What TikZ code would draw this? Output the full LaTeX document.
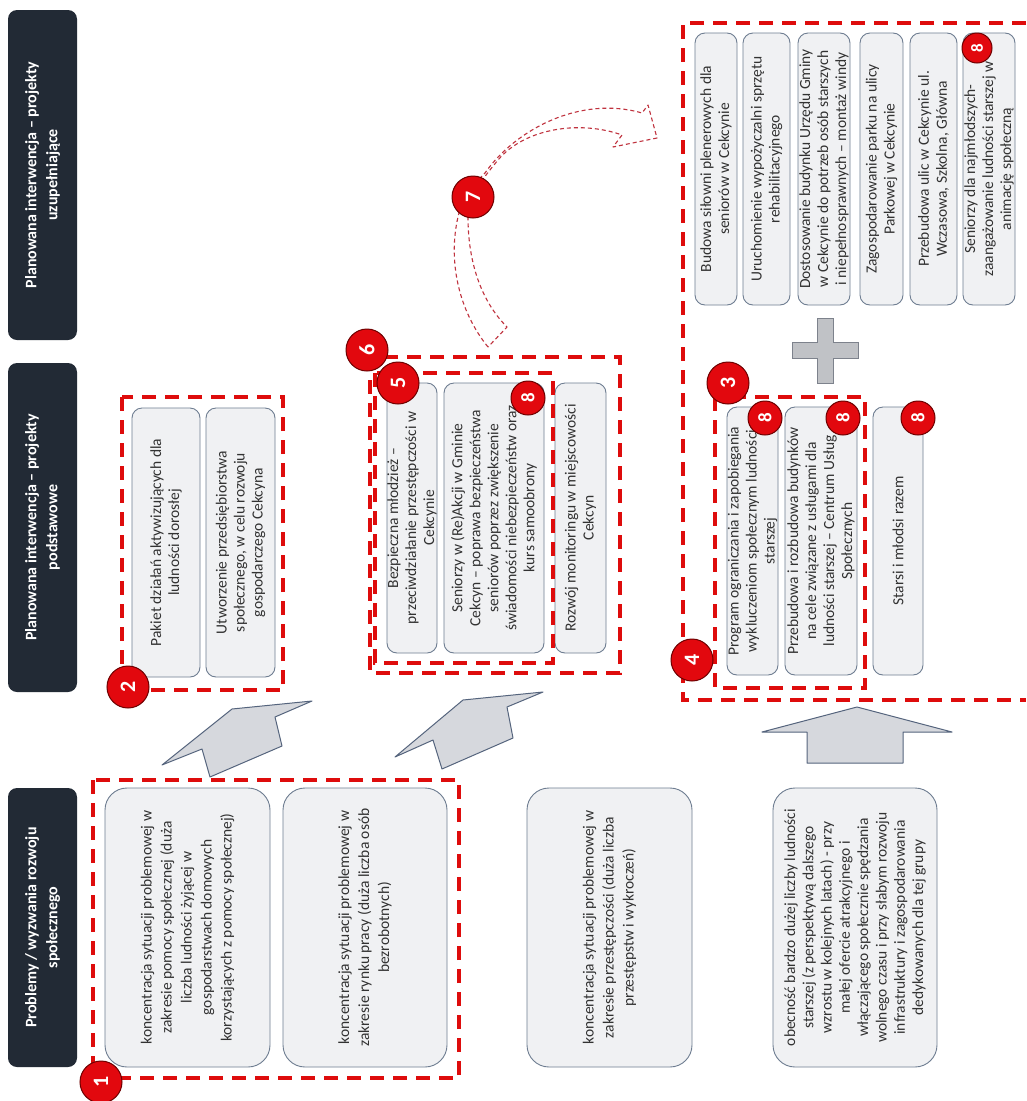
\documentclass[tikz,border=0pt]{standalone}
\usepackage{fontspec}
\setmainfont{Carlito}
\definecolor{hdr}{RGB}{34,42,53}
\definecolor{boxfill}{RGB}{240,241,243}
\definecolor{boxline}{RGB}{110,125,145}
\definecolor{txt}{RGB}{50,50,50}
\definecolor{redd}{RGB}{222,12,12}
\definecolor{badgefill}{RGB}{226,8,14}
\definecolor{badgeline}{RGB}{110,0,0}
\definecolor{arrfill}{RGB}{214,216,221}
\definecolor{arrline}{RGB}{85,100,125}
\definecolor{plusfill}{RGB}{192,194,198}
\definecolor{pluslne}{RGB}{125,130,140}
\definecolor{curvecol}{RGB}{192,50,62}
\tikzset{
  hdrbox/.style={rotate=90, fill=hdr, rounded corners=9pt, text=white,
    font=\fontsize{16}{21}\selectfont\bfseries, align=center, inner sep=0pt},
  probox/.style={rotate=90, fill=boxfill, draw=boxline, line width=0.9pt, text=txt,
    align=center, inner sep=0pt, rounded corners=10pt, font=\fontsize{15.5}{18}\selectfont},
  bigbox/.style={probox, rounded corners=22pt, font=\fontsize{15.5}{20}\selectfont},
  grp/.style={draw=redd, line width=4.5pt, dash pattern=on 14pt off 9pt},
  badge/.style={circle, fill=badgefill, draw=badgeline, line width=1pt, text=white,
    font=\fontsize{22}{22}\selectfont\bfseries, minimum size=42pt, inner sep=0pt, rotate=90},
  badgesm/.style={badge, minimum size=34pt, font=\fontsize{19}{19}\selectfont\bfseries},
  badgexs/.style={badge, minimum size=30pt, font=\fontsize{17}{17}\selectfont\bfseries},
  blockarrow/.style={fill=arrfill, draw=arrline, line width=1pt, line join=round},
  curvearrow/.style={draw=curvecol, line width=1.1pt, dash pattern=on 4pt off 3pt, line join=round},
}
\begin{document}
\begin{tikzpicture}[x=1pt,y=-1pt]
\useasboundingbox (0,0) rectangle (1026,1101);
\fill[white] (0,0) rectangle (1026,1101);

% headers
\node[hdrbox, minimum width=279pt, minimum height=69pt] (h1) at (42.5,927.5) {Problemy / wyzwania rozwoju\\społecznego};
\node[hdrbox, minimum width=329pt, minimum height=69pt] (h2) at (42.5,527.5) {Planowana interwencja – projekty\\podstawowe};
\node[hdrbox, minimum width=330pt, minimum height=69pt] (h3) at (42.5,175) {Planowana interwencja – projekty\\uzupełniające};

% problem boxes
\node[bigbox, minimum width=279pt, minimum height=165pt] (p1) at (187.5,927.5) {koncentracja sytuacji problemowej w\\zakresie pomocy społecznej (duża\\liczba ludności żyjącej w\\gospodarstwach domowych\\korzystających z pomocy społecznej)};
\node[bigbox, minimum width=279pt, minimum height=164pt] (p2) at (365,927.5) {koncentracja sytuacji problemowej w\\zakresie rynku pracy (duża liczba osób\\bezrobotnych)};
\node[bigbox, minimum width=279pt, minimum height=165pt] (p3) at (609.5,927.5) {koncentracja sytuacji problemowej w\\zakresie przestępczości (duża liczba\\przestępstw i wykroczeń)};
\node[bigbox, minimum width=279pt, minimum height=164pt, font=\fontsize{15.5}{18.3}\selectfont] (p4) at (855,927.5) {obecność bardzo dużej liczby ludności\\starszej (z perspektywą dalszego\\wzrostu w kolejnych latach) - przy\\małej ofercie atrakcyjnego i\\włączającego społecznie spędzania\\wolnego czasu i przy słabym rozwoju\\infrastruktury i zagospodarowania\\dedykowanych dla tej grupy};

% group 1
\draw[grp] (93,780) rectangle (459,1078);

% group 2
\node[probox, minimum width=269pt, minimum height=68pt] (b2a) at (166,542.5) {Pakiet działań aktywizujących dla\\ludności dorosłej};
\node[probox, minimum width=269pt, minimum height=69pt] (b2b) at (240.5,542.5) {Utworzenie przedsiębiorstwa\\społecznego, w celu rozwoju\\gospodarczego Cekcyna};
\draw[grp] (122,397) rectangle (283,690);

% group 5 / 6
\node[probox, minimum width=270pt, minimum height=50pt] (b5a) at (412,518) {Bezpieczna młodzież –\\przeciwdziałanie przestępczości w\\Cekcynie};
\node[probox, minimum width=270pt, minimum height=100pt] (b5b) at (494,518) {Seniorzy w (Re)Akcji w Gminie\\Cekcyn – poprawa bezpieczeństwa\\seniorów poprzez zwiększenie\\świadomości niebezpieczeństw oraz\\kurs samoobrony};
\node[probox, minimum width=270pt, minimum height=51pt] (b6c) at (580.5,518) {Rozwój monitoringu w miejscowości\\Cekcyn};
\draw[grp] (370,357) rectangle (620,673);
\draw[grp] (375,373) rectangle (553,663);

% group 3 / 4
\node[probox, minimum width=268pt, minimum height=51pt] (b3a) at (752.5,541) {Program ograniczania i zapobiegania\\wykluczeniom społecznym ludności\\starszej};
\node[probox, minimum width=268pt, minimum height=72pt] (b3b) at (821,541) {Przebudowa i rozbudowa budynków\\na cele związane z usługami dla\\ludności starszej – Centrum Usług\\Społecznych};
\node[probox, minimum width=268pt, minimum height=50pt] (b3c) at (898,541) {Starsi i młodsi razem};
\draw[grp] (715,397) rectangle (865,688);

\node[probox, minimum width=272pt, minimum height=42pt] (b4a) at (716,169) {Budowa siłowni plenerowych dla\\seniorów w Cekcynie};
\node[probox, minimum width=272pt, minimum height=47pt] (b4b) at (766.5,169) {Uruchomienie wypożyczalni sprzętu\\rehabilitacyjnego};
\node[probox, minimum width=272pt, minimum height=52pt] (b4c) at (824,169) {Dostosowanie budynku Urzędu Gminy\\w Cekcynie do potrzeb osób starszych\\i niepełnosprawnych – montaż windy};
\node[probox, minimum width=272pt, minimum height=43pt] (b4d) at (881.5,169) {Zagospodarowanie parku na ulicy\\Parkowej w Cekcynie};
\node[probox, minimum width=272pt, minimum height=47pt] (b4e) at (933.5,169) {Przebudowa ulic w Cekcynie ul.\\Wczasowa, Szkolna, Główna};
\node[probox, minimum width=272pt, minimum height=52pt] (b4f) at (989,169) {Seniorzy dla najmłodszych-\\zaangażowanie ludności starszej w\\animację społeczną};
\draw[grp] (1026,23) -- (683,23) -- (683,700) -- (1026,700);

% plus sign
\draw[fill=plusfill, draw=pluslne, line width=1pt]
  (817,318) -- (833,318) -- (833,342) -- (858,342) -- (858,358) -- (833,358)
  -- (833,383) -- (817,383) -- (817,358) -- (792,358) -- (792,342) -- (817,342) -- cycle;

% block arrows
\draw[blockarrow] (162,765) -- (232,709) -- (312,701) -- (275,717) -- (282,746) -- (210,777) -- (202,749) -- cycle;
\draw[blockarrow] (395,757) -- (463,700) -- (543,692) -- (507,707) -- (513,738) -- (442,769) -- (433,740) -- cycle;
\draw[blockarrow] (762,732) -- (857,707) -- (952,732) -- (903,732) -- (903,763) -- (807,763) -- (807,732) -- cycle;

% curved dashed arrow
\draw[curvearrow] (488,347) .. controls (458,310) and (448,260) .. (458,217)
  .. controls (462,198) and (474,184) .. (485,173)
  .. controls (515,130) and (580,95) .. (642,113)
  -- (648,105) -- (657,138) -- (613,147) -- (622,135)
  .. controls (580,120) and (525,128) .. (498,160)
  .. controls (485,176) and (468,196) .. (468,217)
  .. controls (468,260) and (480,300) .. (507,327) -- cycle;

% badges
\node[badge] (n1) at (101,1082) {1};
\node[badge] (n2) at (128,687) {2};
\node[badge] (n3) at (728,383) {3};
\node[badge] (n4) at (692,660) {4};
\node[badge] (n6) at (367,350) {6};
\node[badge] (n5) at (398,383) {5};
\node[badge] (n7) at (473,197) {7};
\node[badgesm] (n8a) at (528,398) {8};
\node[badgesm] (n8b) at (765,418) {8};
\node[badgesm] (n8c) at (843,418) {8};
\node[badgesm] (n8d) at (918,418) {8};
\node[badgexs] (n8e) at (977,48) {8};
\end{tikzpicture}
\end{document}
